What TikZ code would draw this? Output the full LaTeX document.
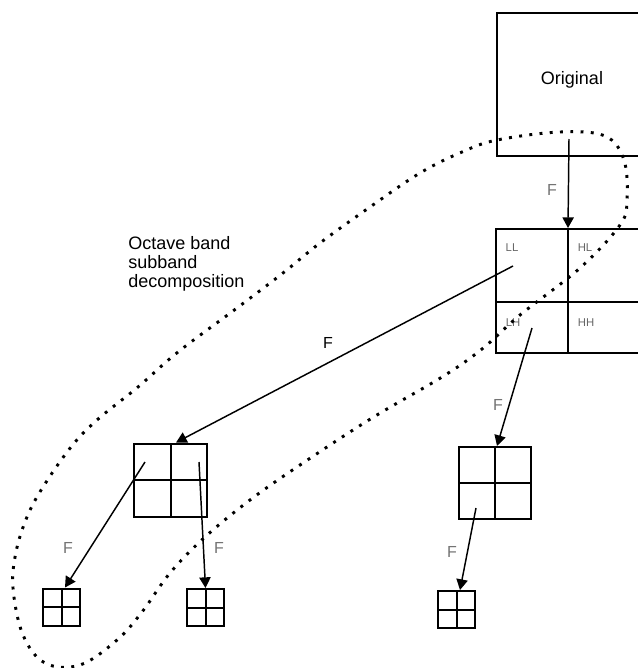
\documentclass[tikz,border=0pt]{standalone}
\usepackage{fontspec}
\setmainfont{Liberation Sans}
\usetikzlibrary{arrows.meta, calc}

\tikzset{
  band/.style={draw, line width=1.5pt, inner sep=0pt,
    minimum width=#1, minimum height=#1,
    path picture={\draw[line width=1.5pt]
      (path picture bounding box.north) -- (path picture bounding box.south)
      (path picture bounding box.west) -- (path picture bounding box.east);}},
  frame/.style={draw, line width=1.5pt, inner sep=0pt},
  flow/.style={-{Triangle[width=8.5pt,length=8pt]}, line width=1.1pt},
  flab/.style={font=\fontsize{12}{14}\selectfont, text=black!55},
  qlab/.style={font=\fontsize{8.5}{9}\selectfont, text=black!60},
}

\begin{document}
\begin{tikzpicture}[x=0.75pt,y=-0.75pt]
    \useasboundingbox (0,0) rectangle (638,668);
    % original image
    \node[frame, minimum width=108pt, minimum height=107.25pt] (orig) at (569,84.5) {};
    \node[font=\fontsize{13.5}{16}\selectfont] (origtxt) at (572,80) {Original};
    % first level subbands
    \node[frame, minimum width=108pt, minimum height=93pt] (sub) at (568,291) {};
    \draw[line width=1.5pt] (sub.north) -- (sub.south);
    \draw[line width=1.5pt] ($(sub.west)+(0,11)$) -- ($(sub.east)+(0,11)$);
    \node[qlab] (ll) at (512,248) {LL};
    \node[qlab] (hl) at (585,248) {HL};
    \node[qlab] (lh) at (513,323) {LH};
    \node[qlab] (hh) at (586,323) {HH};
    % second level
    \node[band=54.75pt] (lowA) at (170.5,480) {};
    \node[band=54pt] (lowB) at (494.5,483) {};
    % third level
    \node[band=27.75pt] (llA) at (61.5,607) {};
    \node[band=27.75pt] (llB) at (205.5,607.5) {};
    \node[band=27.75pt] (llC) at (456.5,609.5) {};
    % filter arrows
    \coordinate (s0) at (569,139);
    \coordinate (s1) at (513,266);
    \coordinate (s2) at (532,328);
    \coordinate (s3) at (145,462);
    \coordinate (s4) at (199,462);
    \coordinate (s5) at (476,508);
    \draw[flow] (s0) -- (sub.north);
    \draw[flow] (s1) -- ($(lowA.north)+(5.5,0)$);
    \draw[flow] (s2) -- ($(lowB.north)+(2.5,0)$);
    \draw[flow] (s3) -- ($(llA.north)+(3.5,0)$);
    \draw[flow] (s4) -- (llB.north);
    \draw[flow] (s5) -- ($(llC.north)+(3.5,0)$);
    \node[flab] (f0) at (552,190) {F};
    \node[font=\fontsize{12}{14}\selectfont] (f1) at (328,343) {F};
    \node[flab] (f2) at (498,405) {F};
    \node[flab] (f3) at (68,548) {F};
    \node[flab] (f4) at (219,548) {F};
    \node[flab] (f5) at (452,552) {F};
    % octave band loop
    \node[anchor=north west, align=left, inner sep=0pt,
      font=\fontsize{13.5}{14.25}\selectfont] (octave) at (128,236)
      {Octave band\\subband\\decomposition};
    \draw[line width=2.2pt, dash pattern=on 2.2pt off 5.5pt]
      plot[smooth cycle, tension=0.6] coordinates {
      (497,140) (560,132) (605,136) (624,160) (627,200) (620,225)
      (580,268) (520,315) (482,349) (442,377) (372,418) (300,465)
      (250,500) (205,537) (170,573) (142,612) (117,640) (80,665)
      (45,663) (23,635) (13,588) (16,552) (27,517) (43,487)
      (71,447) (97,420) (138,387) (178,352) (237,308) (283,273)
      (320,243) (370,207) (420,173) (462,152)};
\end{tikzpicture}
\end{document}
